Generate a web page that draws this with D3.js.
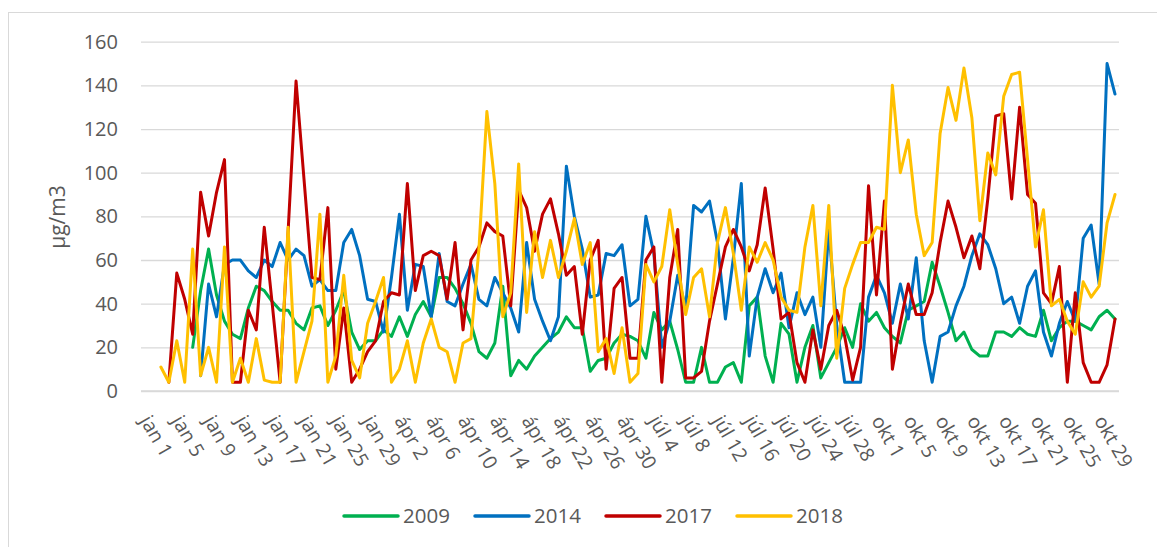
<html>
<script src='https://d3js.org/d3.v7.min.js'></script>
<style>
body {margin: 0; background: white;}
text {font-family: 'Open Sans', sans-serif; fill: #595959;}
</style>
<body>
<svg width=1157 height=547></svg>
<script>

// category labels: jan, ápr, júl, okt days
var months = ["jan", "ápr", "júl", "okt"];
var monthDays = [31, 30, 31, 31];
var categories = [];
months.forEach(function(m, k) {
  for (var d = 1; d <= monthDays[k]; d++) categories.push(m + " " + d);
});

var yTicks = [0, 20, 40, 60, 80, 100, 120, 140, 160];

var seriesNames = ["2009", "2014", "2017", "2018"];
var seriesColors = ["#00B050", "#0070C0", "#C00000", "#FFC000"];

var v2009 = [null, null, null, null, null, null, 20, 46, 65, 44, 32, 26, 24, 38, 48, 46, 41, 37, 37, 31,
  28, 38, 39, 30, 37, 46, 27, 19, 23, 23, 28, 25, 34, 25, 35, 41, 34, 52, 52, 47,
  40, 31, 18, 15, 22, 48, 7, 14, 10, 16, 20, 24, 27, 34, 29, 29, 9, 14, 15, 22,
  26, 25, 23, 15, 36, 28, 32, 19, 4, 4, 20, 4, 4, 11, 13, 4, 39, 43, 16, 4,
  31, 26, 4, 20, 30, 6, 13, 20, 29, 20, 40, 32, 36, 29, 25, 22, 37, 39, 41, 59,
  48, 36, 23, 27, 19, 16, 16, 27, 27, 25, 29, 26, 25, 37, 23, 29, 32, 32, 30, 28,
  34, 37, 33];

var v2014 = [null, null, null, null, null, null, null, 7, 49, 34, 58, 60, 60, 55, 52, 60, 57, 68, 60, 65,
  62, 48, 51, 46, 46, 68, 74, 62, 42, 41, 27, 52, 81, 37, 58, 57, 34, 63, 41, 39,
  49, 58, 42, 39, 52, 45, 38, 27, 68, 42, 32, 23, 34, 103, 80, 65, 43, 44, 63, 62,
  67, 39, 42, 80, 63, 20, 32, 53, 38, 85, 82, 87, 68, 33, 61, 95, 16, 43, 56, 45,
  54, 29, 45, 35, 43, 20, 74, 30, 4, 4, 4, 43, 53, 45, 31, 49, 33, 61, 23, 4,
  25, 27, 39, 48, 62, 72, 67, 56, 40, 43, 31, 48, 55, 27, 16, 31, 41, 32, 70, 76,
  49, 150, 136];

var v2017 = [null, null, null, 4, 54, 42, 26, 91, 71, 91, 106, 4, 4, 37, 28, 75, 40, 4, 73, 142,
  97, 52, 51, 84, 10, 38, 4, 10, 18, 23, 41, 45, 44, 95, 46, 62, 64, 62, 42, 68,
  28, 60, 66, 77, 73, 71, 39, 92, 84, 64, 81, 88, 72, 53, 57, 26, 60, 69, 10, 47,
  52, 15, 15, 60, 66, 4, 52, 74, 6, 6, 9, 32, 49, 66, 74, 66, 55, 67, 93, 65,
  33, 36, 13, 4, 28, 10, 30, 37, 25, 5, 20, 94, 44, 87, 10, 31, 49, 35, 35, 45,
  68, 87, 75, 61, 71, 56, 88, 126, 127, 88, 130, 90, 86, 45, 40, 57, 4, 45, 13, 4,
  4, 12, 33];

var v2018 = [null, null, 11, 4, 23, 4, 65, 7, 20, 4, 66, 4, 15, 4, 24, 5, 4, 4, 75, 4,
  18, 32, 81, 4, 16, 53, 14, 6, 31, 41, 52, 4, 10, 23, 4, 22, 33, 20, 18, 4,
  22, 24, 65, 128, 95, 34, 45, 104, 36, 73, 52, 69, 52, 64, 79, 58, 68, 18, 24, 8,
  29, 4, 8, 58, 50, 57, 83, 58, 35, 52, 56, 34, 68, 84, 63, 37, 66, 59, 68, 60,
  43, 37, 36, 66, 85, 39, 85, 15, 47, 58, 68, 68, 75, 74, 140, 100, 115, 81, 62, 68,
  118, 139, 124, 148, 125, 78, 109, 99, 135, 145, 146, 106, 66, 83, 39, 42, 32, 26, 50, 43,
  48, 77, 90];

var seriesValues = [v2009, v2014, v2017, v2018];

var svg = d3.select("svg");

// outer chart border
svg.append("rect")
  .attr("x", 8.5).attr("y", 12.5)
  .attr("width", 1170).attr("height", 560)
  .attr("fill", "none")
  .attr("stroke", "#d9d9d9");

var x = d3.scalePoint().domain(categories).range([141, 1119]).padding(0.5);
var y = d3.scaleLinear().domain([0, 160]).range([391, 41.7]);

// y gridlines and labels
var yAxis = svg.append("g")
  .attr("transform", "translate(141,0)")
  .call(d3.axisLeft(y).tickValues(yTicks).tickSize(-978).tickPadding(23));
yAxis.select(".domain").remove();
yAxis.selectAll("line").attr("stroke", "#d9d9d9").attr("stroke-width", 1.3);
yAxis.selectAll("text").style("font-size", "20px").style("font-family", "'Open Sans', sans-serif").attr("fill", "#595959");

// x axis, every 4th label
var xAxis = svg.append("g")
  .attr("transform", "translate(0,391)")
  .call(d3.axisBottom(x).tickValues(categories.filter(function(d, i) { return i % 4 === 0; })).tickSize(0));
xAxis.select(".domain").attr("stroke", "#d9d9d9").attr("stroke-width", 1.3)
  .attr("d", "M141,0H1119");
xAxis.selectAll("text")
  .attr("x", 0).attr("y", 0).attr("dy", "0.35em")
  .attr("transform", "translate(0,26) rotate(60)")
  .style("text-anchor", "start")
  .style("font-size", "19.5px")
  .style("font-family", "'Open Sans', sans-serif")
  .attr("fill", "#595959");

// y axis title
svg.append("text")
  .text("µg/m3")
  .attr("transform", "translate(65,217) rotate(-90)")
  .attr("text-anchor", "middle")
  .style("font-size", "21px");

// lines
var line = d3.line()
  .defined(function(d) { return d != null; })
  .x(function(d, i) { return x(categories[i]); })
  .y(function(d) { return y(d); });

seriesValues.forEach(function(vals, k) {
  svg.append("path")
    .datum(vals)
    .attr("fill", "none")
    .attr("stroke", seriesColors[k])
    .attr("stroke-width", 3)
    .attr("stroke-linejoin", "round")
    .attr("stroke-linecap", "round")
    .attr("d", line);
});

// legend
var legend = svg.append("g").attr("transform", "translate(344,516)");
seriesNames.forEach(function(name, k) {
  var g = legend.append("g").attr("transform", "translate(" + (k * 131) + ",0)");
  g.append("line")
    .attr("x1", 0).attr("x2", 54)
    .attr("stroke", seriesColors[k])
    .attr("stroke-width", 3.5)
    .attr("stroke-linecap", "round");
  g.append("text")
    .text(name)
    .attr("x", 59)
    .attr("dy", "0.35em")
    .style("font-size", "20.5px");
});

</script>
</body>
</html>
